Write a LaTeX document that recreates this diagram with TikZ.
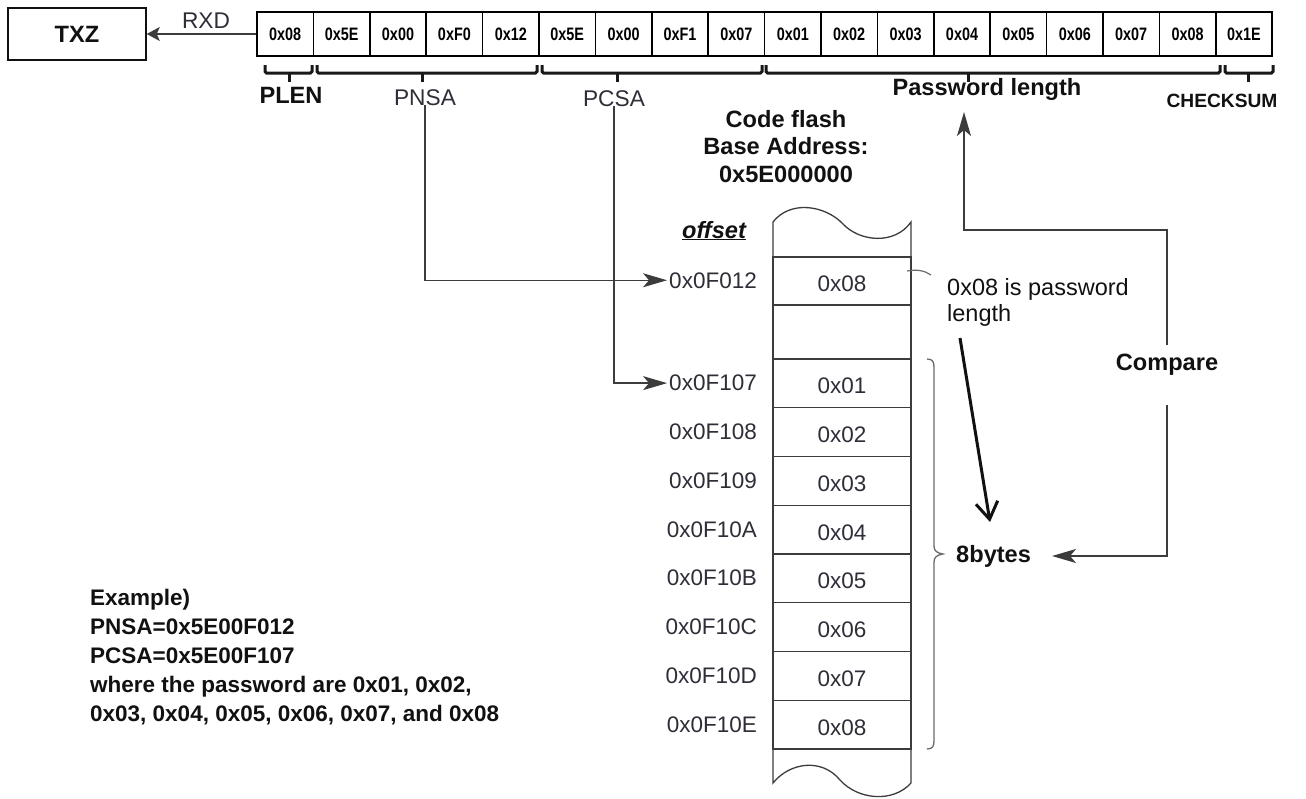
\documentclass[tikz,border=0pt]{standalone}
\usepackage{fontspec}
\setmainfont{Liberation Sans}
\usepackage{graphicx}
\usetikzlibrary{arrows.meta,calc}
\definecolor{ink}{HTML}{111111}
\definecolor{memtext}{HTML}{2E2E38}
\definecolor{lineg}{HTML}{3C3C3C}
\definecolor{braceg}{HTML}{6A6A6A}
\newcommand{\pxfont}[2]{\fontsize{#1}{#2}\selectfont}
\begin{document}
\begin{tikzpicture}[x=1pt,y=-1pt,
  topcell/.style={draw=black, line width=1.6pt, minimum width=56.4pt, minimum height=44pt, inner sep=0pt, font=\pxfont{18}{21}\bfseries},
  memcell/.style={draw=lineg, line width=1.3pt, minimum width=138pt, inner sep=0pt, text height=21pt, text depth=0pt, text=memtext, font=\pxfont{22.5}{27}},
  offs/.style={anchor=base east, inner sep=2pt, text=memtext, font=\pxfont{22.5}{27}},
  con/.style={draw=lineg, line width=1.5pt},
  tip/.style={-{Stealth[length=24pt,width=14pt,inset=6pt]}},
  lbl/.style={font=\pxfont{23.6}{28}\bfseries, text=ink, inner sep=0pt},
  reglbl/.style={font=\pxfont{22.7}{27}, text=memtext, inner sep=0pt},
  brc/.style={line width=3pt, draw=black!90, rounded corners=1.5pt}
]
\useasboundingbox (0,0) rectangle (1306,798);

% TXZ box and transmitted frame
\node[draw=ink, line width=1.5pt, minimum width=138pt, minimum height=52pt, inner sep=0pt, font=\pxfont{23.6}{28}\bfseries, text=ink] (txz) at (77,34) {TXZ};
\foreach \v [count=\i] in {0x08,0x5E,0x00,0xF0,0x12,0x5E,0x00,0xF1,0x07,0x01,0x02,0x03,0x04,0x05,0x06,0x07,0x08,0x1E}
  \node[topcell] (c\i) at ({257+56.4*(\i-0.5)},34) {\scalebox{0.8}[1]{\v}};
\draw[con, -{Stealth[length=13pt,width=14pt,inset=3pt]}] (c1.west) -- (txz.east);
\node[reglbl, anchor=base] (rxd) at (206,28) {RXD};

% braces under the frame
\foreach \a/\b/\m in {265/312/289, 317/537/422, 542/762/617, 766/1220/968, 1225/1273/1248}{
  \draw[brc] (\a,65) -- (\a,73) -- (\b,73) -- (\b,65);
  \draw[line width=3pt, draw=black!90] (\m,73) -- (\m,82);
}
\node[lbl, anchor=base] (plen) at (291,103) {PLEN};
\node[reglbl, anchor=base] (pnsa) at (425,105) {PNSA};
\node[reglbl, anchor=base] (pcsa) at (614,106) {PCSA};
\node[lbl, anchor=base] (pwlen) at (987,95) {Password length};
\node[font=\pxfont{19.2}{23}\bfseries, text=ink, inner sep=0pt, anchor=base] (chk) at (1222,107) {CHECKSUM};

% code flash title
\node[lbl, align=center, anchor=north, font=\pxfont{23.6}{27.5}\bfseries] (title) at (786,110) {Code flash\\Base Address:\\0x5E000000};
\node[lbl, anchor=base] (offset) at (714,238) {\underline{\itshape offset}};

% memory column
\draw[lineg, line width=1.3pt] (773,257) -- (773,222) .. controls (790,200) and (825,205) .. (843,224) .. controls (860,242) and (895,245) .. (911,222) -- (911,257);
\draw[lineg, line width=1.3pt] (773,749) -- (773,783) .. controls (790,762) and (822,758) .. (840,780) .. controls (858,800) and (893,803) .. (911,783) -- (911,749);
\node[memcell, minimum height=48pt] (m0) at (842,281) {0x08};
\node[memcell, minimum height=54pt] (me) at (842,332) {};
\foreach \v [count=\i] in {01,02,03,04,05,06,07,08}
  \node[memcell, minimum height=48.75pt] (m\i) at (842,{359+48.75*(\i-0.5)}) {0x\v};

% offsets
\node[offs] (o0) at (759,288) {0x0F012};
\foreach \v [count=\i] in {107,108,109,10A,10B,10C,10D,10E}
  \node[offs] (o\i) at (759,{359+48.75*(\i-0.5)+7.5}) {0x0F\v};

% pointer arrows
\draw[con,tip] (pnsa.south) |- (o0.west);
\draw[con,tip] (pcsa.south) |- (o1.west);

% 8 bytes brace
\draw[braceg, line width=1.3pt] (927,359) .. controls (933,359) and (934,362) .. (934,368) -- (934,546) .. controls (934,551) and (937,553) .. (943,554) .. controls (937,555) and (934,557) .. (934,562) -- (934,740) .. controls (934,746) and (933,749) .. (927,749);
\node[lbl, anchor=base west] (bytes) at (956,562) {8bytes};

% note
\draw[braceg, line width=1.2pt] (907,271) .. controls (918,269) and (925,271) .. (931,275);
\node[align=left, anchor=north west, inner sep=0pt, font=\pxfont{23.5}{26}, text=ink] (note) at (947,278) {0x08 is password\\length};
\coordinate (nstart) at (960,338);
\coordinate (nend) at (990,522);
\draw[line width=3pt, ink, -{Straight Barb[length=17pt,width=22pt]}] (nstart) -- (nend);

% compare
\node[lbl] (cmp) at (1167,365) {Compare};
\coordinate (pwturn) at (964,230);
\coordinate (pwtip) at (964,112);
\coordinate (btip) at (1052,556);
\draw[con,tip,shorten <=9pt] (cmp.north) |- (pwturn) -- (pwtip);
\draw[con,tip,shorten <=29pt] (cmp.south) |- (btip);

% example
\node[align=left, anchor=north west, inner sep=0pt, font=\pxfont{22.5}{29}\bfseries, text=ink] (example) at (90,588.6)
  {Example)\\PNSA=0x5E00F012\\PCSA=0x5E00F107\\where the password are 0x01, 0x02,\\0x03, 0x04, 0x05, 0x06, 0x07, and 0x08};
\end{tikzpicture}
\end{document}
